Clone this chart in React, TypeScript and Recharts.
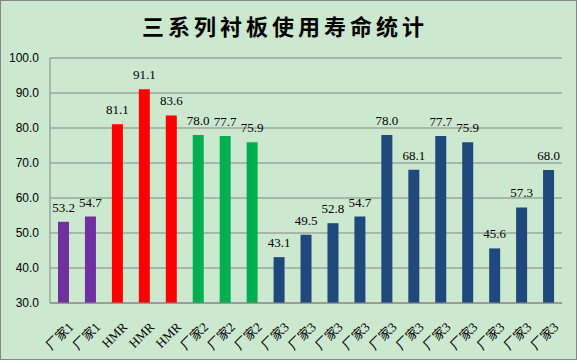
import { BarChart, Bar, XAxis, YAxis, CartesianGrid, Cell, LabelList } from 'recharts'

const categories = [
  '厂家1', '厂家1',
  'HMR', 'HMR', 'HMR',
  '厂家2', '厂家2', '厂家2',
  '厂家3', '厂家3', '厂家3', '厂家3', '厂家3', '厂家3', '厂家3', '厂家3', '厂家3', '厂家3', '厂家3',
]
const lifeValues = [53.2, 54.7, 81.1, 91.1, 83.6, 78.0, 77.7, 75.9, 43.1, 49.5, 52.8, 54.7, 78.0, 68.1, 77.7, 75.9, 45.6, 57.3, 68.0]
const yTicks = [30, 40, 50, 60, 70, 80, 90, 100]

const GROUP_COLORS: Record<string, string> = {
  '厂家1': '#7030A0',
  HMR: '#FF0000',
  '厂家2': '#00B050',
  '厂家3': '#1F497D',
}

const data = categories.map((name, i) => ({ id: i, name, value: lifeValues[i] }))

const BG = '#CCE8CF'
const GRID = '#868686'

function XTick(props: any) {
  const { x, y, payload } = props
  const label = categories[payload.value] ?? ''
  return (
    <g transform={`translate(${x + 4},${y + 10})`}>
      <text
        transform="rotate(-45)"
        textAnchor="end"
        dominantBaseline="hanging"
        fontSize={13}
        fill="#000"
        fontFamily='"Liberation Serif", "Noto Sans CJK SC", serif'
      >
        {label}
      </text>
    </g>
  )
}

export default function App() {
  return (
    <div
      style={{
        position: 'absolute',
        left: 0,
        top: 0,
        width: 577,
        height: 360,
        background: BG,
        boxShadow: `inset 0 0 0 1px ${GRID}`,
      }}
    >
      <div
        style={{
          position: 'absolute',
          top: 10,
          left: 0,
          width: 570,
          textAlign: 'center',
          fontFamily: '"Noto Sans CJK SC", sans-serif',
          fontWeight: 'bold',
          fontSize: 22,
          letterSpacing: 4,
          lineHeight: '30px',
          color: '#000',
        }}
      >
        三系列衬板使用寿命统计
      </div>
      <BarChart
        width={577}
        height={360}
        data={data}
        margin={{ top: 58, right: 15, bottom: 0, left: 0 }}
        style={{ position: 'absolute', left: 0, top: 0 }}
      >
        <CartesianGrid vertical={false} stroke={GRID} strokeDasharray="" />
        <XAxis
          dataKey="id"
          type="category"
          height={57}
          interval={0}
          tickLine={false}
          axisLine={{ stroke: GRID }}
          tick={<XTick />}
        />
        <YAxis
          domain={[30, 100]}
          ticks={yTicks}
          width={50}
          tickLine={false}
          tickSize={9}
          axisLine={{ stroke: GRID }}
          tickFormatter={(v: number) => v.toFixed(1)}
          tick={{ fontSize: 12, fill: '#000', fontFamily: '"Liberation Sans", Arial, sans-serif' }}
        />
        <Bar dataKey="value" barSize={11} isAnimationActive={false}>
          {data.map((d) => (
            <Cell key={d.id} fill={GROUP_COLORS[d.name]} />
          ))}
          <LabelList
            dataKey="value"
            position="top"
            offset={10}
            formatter={(v: any) => Number(v).toFixed(1)}
            style={{ fontSize: 13, fill: '#000', fontFamily: '"Liberation Serif", "Times New Roman", serif' }}
          />
        </Bar>
      </BarChart>
    </div>
  )
}
